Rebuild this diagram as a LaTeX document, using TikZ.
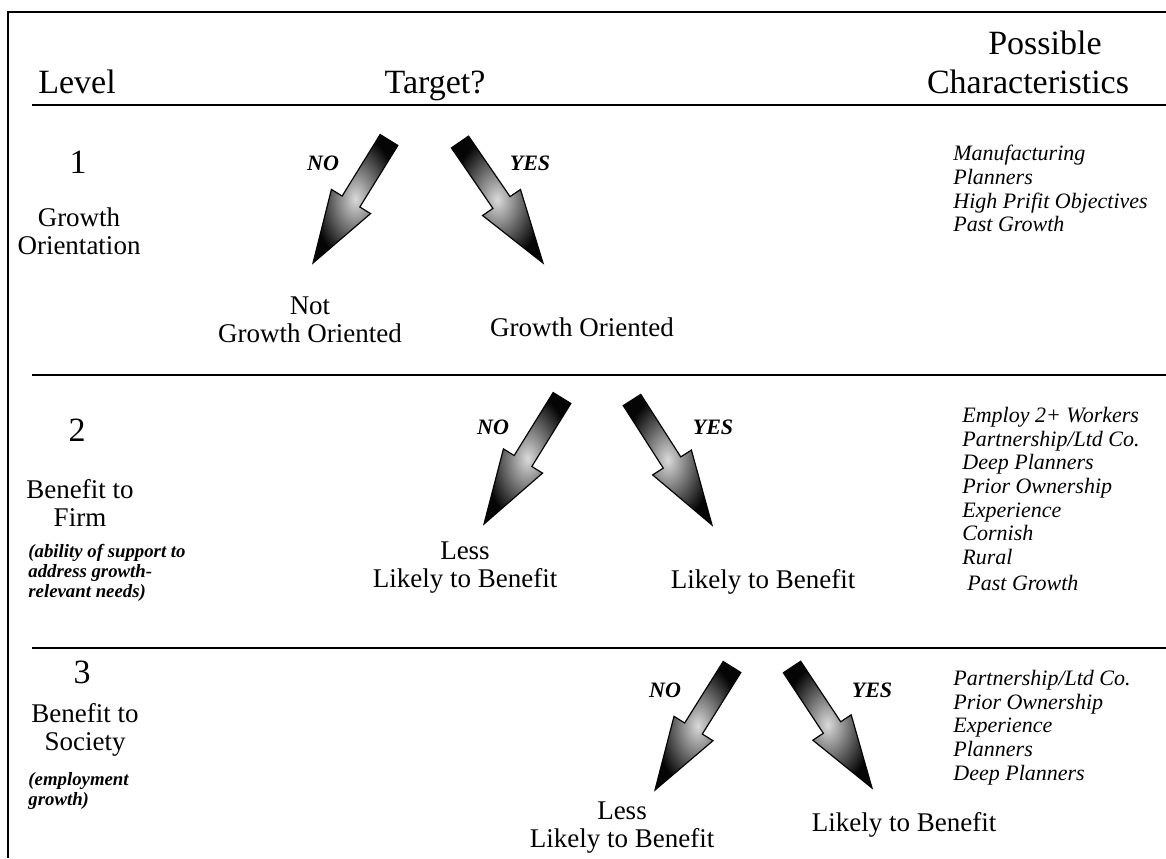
\documentclass[tikz,border=0pt]{standalone}
\usepackage{fontspec}
\setmainfont{Liberation Serif}
\usepackage{tikz}
\usetikzlibrary{calc}
\definecolor{arrowdark}{HTML}{050505}
\definecolor{arrowlight}{HTML}{DADADA}

% block arrow from tail coordinate #1 to tip coordinate #2
\newcommand{\fatarrow}[2]{%
  \coordinate (fa-b) at ($(#1)!0.5!(#2)$);
  \shade[inner color=arrowlight,outer color=arrowdark,draw=arrowdark,line width=0.6pt]
    ($(#1)!5.2pt!90:(#2)$)--($(fa-b)!5.2pt!90:(#2)$)--($(fa-b)!11.5pt!90:(#2)$)--(#2)
    --($(fa-b)!11.5pt!-90:(#2)$)--($(fa-b)!5.2pt!-90:(#2)$)--($(#1)!5.2pt!-90:(#2)$)--cycle;
}

\begin{document}
\begin{tikzpicture}[x=0.5pt,y=-0.5pt,
  hdr/.style={font=\fontsize{17}{20}\selectfont,anchor=base},
  num/.style={font=\fontsize{17}{20}\selectfont},
  lbl/.style={font=\fontsize{13.5}{14}\selectfont,align=center},
  yn/.style={font=\fontsize{11}{12}\selectfont\bfseries\itshape},
  chars/.style={font=\fontsize{11}{11.8}\selectfont\itshape,align=left,anchor=north west,inner sep=0pt},
  note/.style={font=\fontsize{9.4}{10}\selectfont\bfseries\itshape,align=left,anchor=north west,inner sep=0pt},
  rule/.style={line width=0.8pt}]
  \clip (0,0) rectangle (1166,858);
  % frame and row rules
  \draw[line width=1.1pt] (8,858)--(8,12)--(1166,12);
  \draw[rule] (32,105)--(1166,105);
  \draw[rule] (32,375)--(1166,375);
  \draw[rule] (32,648)--(1166,648);
  % header
  \node[hdr] (level) at (77,93) {Level};
  \node[hdr] (target) at (435,93) {Target?};
  \node[hdr] (possible) at (1045,54) {Possible};
  \node[hdr] (charact) at (1028,93) {Characteristics};
  % level 1
  \node[num] (num1) at (78,162) {1};
  \node[lbl] (name1) at (79,231) {Growth\\Orientation};
  \node[yn] (no1) at (323,163) {NO};
  \node[yn] (yes1) at (530,163) {YES};
  \coordinate (noTail1) at (389,140);
  \coordinate (noTip1) at (313,263);
  \coordinate (yesTail1) at (460,142);
  \coordinate (yesTip1) at (543,263);
  \fatarrow{noTail1}{noTip1}
  \fatarrow{yesTail1}{yesTip1}
  \node[lbl] (out1n) at (310,320) {Not\\Growth Oriented};
  \node[lbl] (out1y) at (582,327) {Growth Oriented};
  \node[chars] (char1) at (953,145) {Manufacturing\\Planners\\High Prifit Objectives\\Past Growth};
  % level 2
  \node[num] (num2) at (77,430) {2};
  \node[lbl] (name2) at (80,503) {Benefit to\\Firm};
  \node[note] (note2) at (28,544) {(ability of support to\\address growth-\\relevant needs)};
  \node[yn] (no2) at (493,427) {NO};
  \node[yn] (yes2) at (713,427) {YES};
  \coordinate (noTail2) at (562,398);
  \coordinate (noTip2) at (484,524);
  \coordinate (yesTail2) at (632,400);
  \coordinate (yesTip2) at (712,525);
  \fatarrow{noTail2}{noTip2}
  \fatarrow{yesTail2}{yesTip2}
  \node[lbl] (out2n) at (465,568) {Less\\Likely to Benefit};
  \node[lbl] (out2y) at (763,582) {Likely to Benefit};
  \node[chars] (char2) at (962,407) {Employ 2+ Workers\\Partnership/Ltd Co.\\Deep Planners\\Prior Ownership\\Experience\\Cornish\\Rural\\[1.5pt]\hspace{2.5pt}Past Growth};
  % level 3
  \node[num] (num3) at (82,672) {3};
  \node[lbl] (name3) at (85,730) {Benefit to\\Society};
  \node[note] (note3) at (28,772) {(employment\\growth)};
  \node[yn] (no3) at (665,690) {NO};
  \node[yn] (yes3) at (872,690) {YES};
  \coordinate (noTail3) at (732,667);
  \coordinate (noTip3) at (655,790);
  \coordinate (yesTail3) at (792,667);
  \coordinate (yesTip3) at (872,788);
  \fatarrow{noTail3}{noTip3}
  \fatarrow{yesTail3}{yesTip3}
  \node[lbl] (out3n) at (622,828) {Less\\Likely to Benefit};
  \node[lbl] (out3y) at (904,825) {Likely to Benefit};
  \node[chars] (char3) at (953,670) {Partnership/Ltd Co.\\Prior Ownership\\Experience\\Planners\\Deep Planners};
\end{tikzpicture}
\end{document}
